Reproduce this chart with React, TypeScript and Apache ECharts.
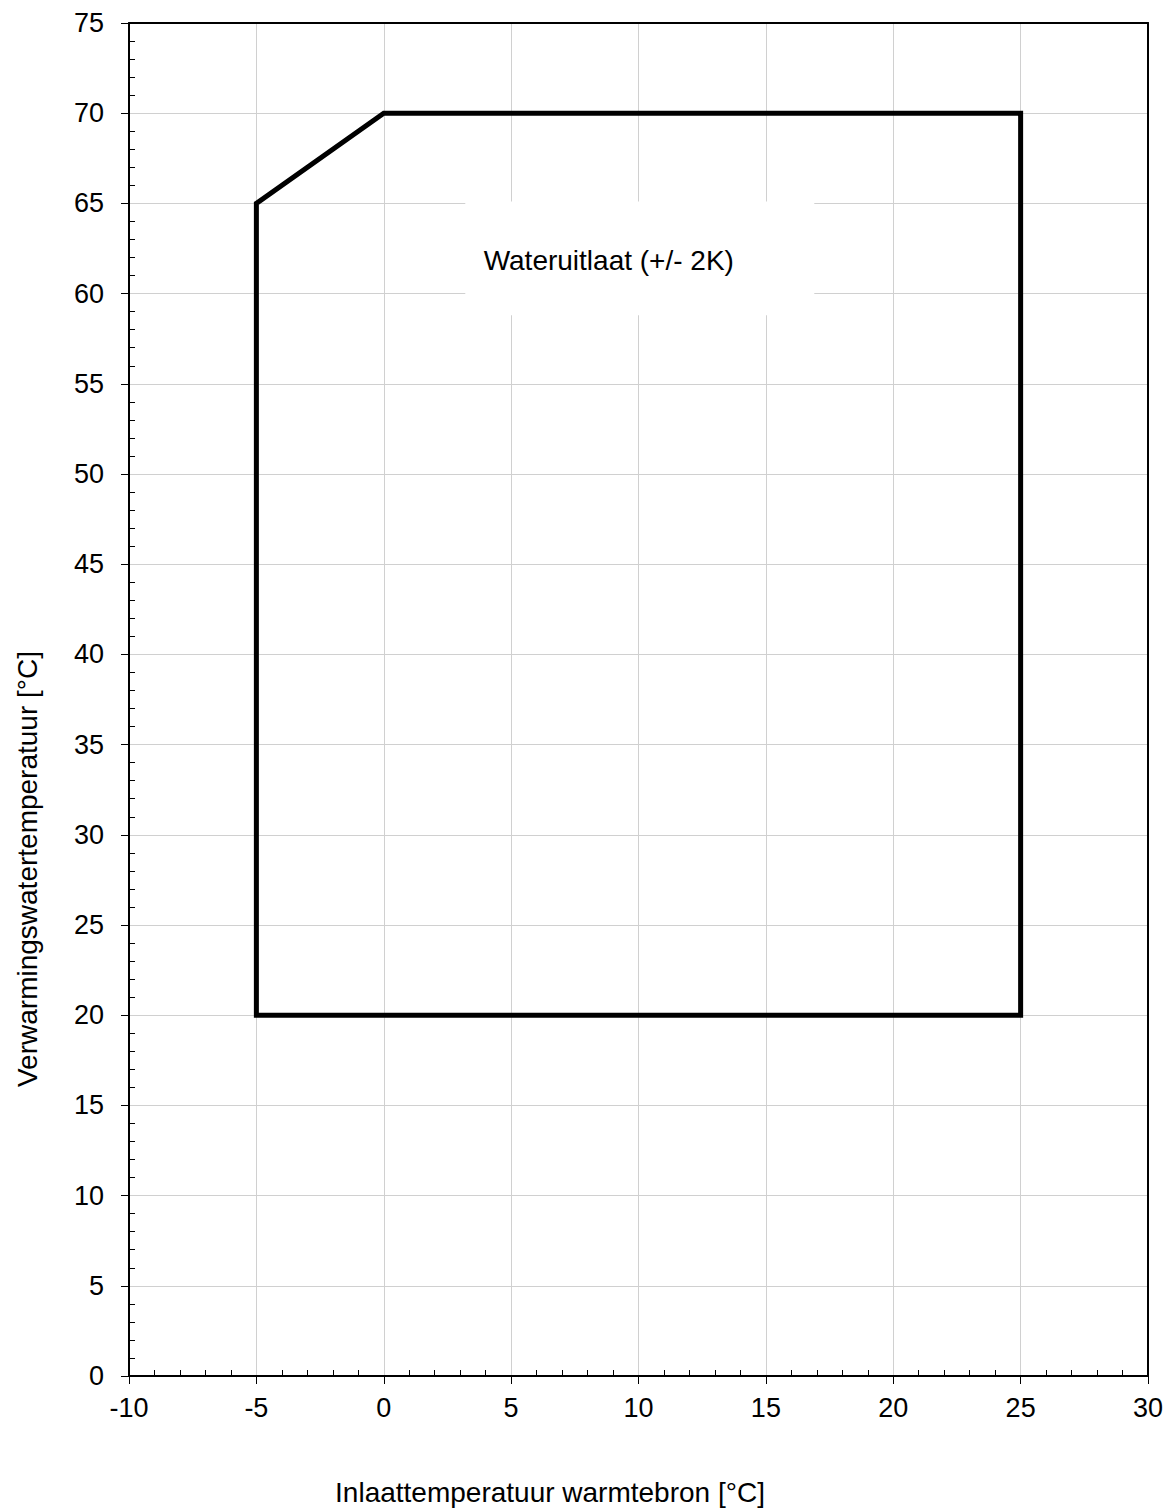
import React, { useEffect, useRef } from "react";
import * as echarts from "echarts";

const xTitle = "Inlaattemperatuur warmtebron [°C]";
const yTitle = "Verwarmingswatertemperatuur [°C]";
const annotation = "Wateruitlaat (+/- 2K)";

const xRange = [-10, 30];
const yRange = [0, 75];
const majorStep = 5;

// operating envelope polygon (x = inlet temp, y = water temp)
const envelopeX = [-5, -5, 0, 25, 25, -5];
const envelopeY = [20, 65, 70, 70, 20, 20];

// annotation box (data coords)
const boxX = [3.2, 16.9];
const boxY = [65.1, 58.8];

const FONT = "'Liberation Sans', Arial, sans-serif";

export default function App() {
  const ref = useRef<HTMLDivElement>(null);
  useEffect(() => {
    const chart = echarts.init(ref.current!, null, { renderer: "svg" });
    const grid = { left: 129, right: 24, top: 23, bottom: 135 };
    const hiddenCommon = {
      axisLabel: { show: false },
      splitLine: { show: false },
    };
    chart.setOption({
      animation: false,
      backgroundColor: "#fff",
      grid: { ...grid, containLabel: false },
      textStyle: { fontFamily: FONT },
      xAxis: [
        {
          type: "value",
          position: "bottom",
          min: xRange[0],
          max: xRange[1],
          interval: majorStep,
          axisLine: { show: true, onZero: false, lineStyle: { color: "#000", width: 2 } },
          axisTick: { show: true, inside: false, length: 8, lineStyle: { color: "#000", width: 1 } },
          axisLabel: { show: true, margin: 18, fontSize: 27, color: "#000", fontFamily: FONT },
          splitLine: { show: true, showMinLine: false, showMaxLine: false, lineStyle: { color: "#d0d0d0", width: 1 } },
        },
        {
          type: "value",
          position: "bottom",
          min: xRange[0],
          max: xRange[1],
          interval: majorStep,
          axisLine: { show: false, onZero: false },
          axisTick: { show: false, inside: true },
          minorTick: { show: true, splitNumber: 5, length: 6, lineStyle: { color: "#000", width: 1 } },
          ...hiddenCommon,
        },
        {
          type: "value",
          position: "top",
          min: xRange[0],
          max: xRange[1],
          interval: majorStep,
          axisLine: { show: true, onZero: false, lineStyle: { color: "#000", width: 2 } },
          axisTick: { show: false },
          ...hiddenCommon,
        },
      ],
      yAxis: [
        {
          type: "value",
          position: "left",
          min: yRange[0],
          max: yRange[1],
          interval: majorStep,
          axisLine: { show: true, onZero: false, lineStyle: { color: "#000", width: 2 } },
          axisTick: { show: true, inside: false, length: 8, lineStyle: { color: "#000", width: 1 } },
          axisLabel: { show: true, margin: 25, fontSize: 27, color: "#000", fontFamily: FONT },
          splitLine: { show: true, showMinLine: false, showMaxLine: false, lineStyle: { color: "#d0d0d0", width: 1 } },
        },
        {
          type: "value",
          position: "left",
          min: yRange[0],
          max: yRange[1],
          interval: majorStep,
          axisLine: { show: false, onZero: false },
          axisTick: { show: false, inside: true },
          minorTick: { show: true, splitNumber: 5, length: 6, lineStyle: { color: "#000", width: 1 } },
          ...hiddenCommon,
        },
        {
          type: "value",
          position: "right",
          min: yRange[0],
          max: yRange[1],
          interval: majorStep,
          axisLine: { show: true, onZero: false, lineStyle: { color: "#000", width: 2 } },
          axisTick: { show: false },
          ...hiddenCommon,
        },
      ],
      graphic: [
        {
          type: "text",
          x: 550,
          y: 1492,
          style: {
            text: xTitle,
            fontSize: 28,
            fontFamily: FONT,
            fill: "#000",
            align: "center",
            verticalAlign: "middle",
          },
        },
        {
          type: "text",
          x: 27,
          y: 869,
          rotation: Math.PI / 2,
          style: {
            text: yTitle,
            fontSize: 28,
            fontFamily: FONT,
            fill: "#000",
            align: "center",
            verticalAlign: "middle",
          },
        },
      ],
      series: [
        {
          type: "line",
          xAxisIndex: 0,
          yAxisIndex: 0,
          data: envelopeX.map((x, i) => [x, envelopeY[i]]),
          symbol: "none",
          lineStyle: { color: "#000", width: 5, cap: "square", join: "miter" },
          z: 5,
          markArea: {
            silent: true,
            itemStyle: { color: "#fff", borderWidth: 0 },
            label: {
              show: true,
              position: "inside",
              offset: [-31, 2],
              fontSize: 28,
              color: "#000",
              fontFamily: FONT,
              formatter: annotation,
            },
            data: [[{ xAxis: boxX[0], yAxis: boxY[0] }, { xAxis: boxX[1], yAxis: boxY[1] }]],
          },
        },
      ],
    });
    return () => chart.dispose();
  }, []);
  return (
    <div
      ref={ref}
      style={{ position: "absolute", left: 0, top: 0, width: 1172, height: 1511, background: "#fff" }}
    />
  );
}
